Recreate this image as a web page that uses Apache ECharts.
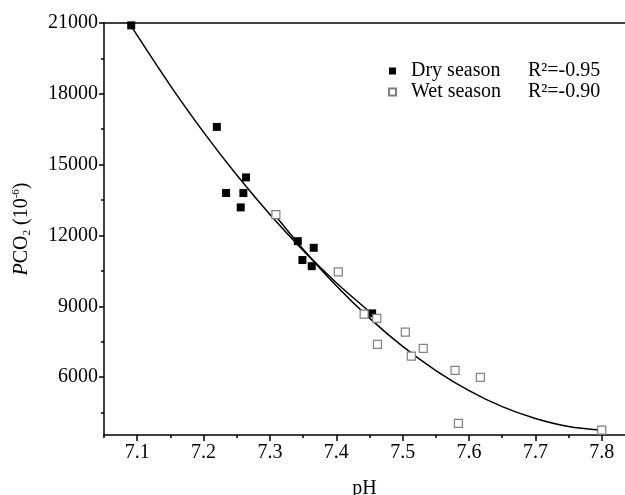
<!DOCTYPE html>
<html>
<head>
<meta charset="utf-8">
<script src="https://cdn.jsdelivr.net/npm/echarts@6/dist/echarts.min.js"></script>
<style>
  html, body { margin: 0; padding: 0; background: #fff; }
  #chart { width: 625px; height: 495px; }
</style>
</head>
<body>
<div id="chart"></div>
<script>
// values
const dryPH    = [7.091, 7.220, 7.234, 7.260, 7.264, 7.256, 7.342, 7.366, 7.349, 7.363, 7.454]
const dryPCO2  = [20900, 16600, 13800, 13800, 14460, 13190, 11760, 11480, 10960, 10700, 8700]
const wetPH    = [7.309, 7.403, 7.442, 7.461, 7.462, 7.504, 7.531, 7.513, 7.579, 7.617, 7.584, 7.800]
const wetPCO2  = [12880, 10460, 8670, 8490, 7390, 7910, 7220, 6890, 6290, 5990, 4040, 3760]

// fitted curves
const dryFitPH   = [7.09, 7.15, 7.20, 7.25, 7.30, 7.35, 7.40, 7.454]
const dryFitPCO2 = [20910, 18350, 16380, 14560, 12890, 11370, 10000, 8680]
const wetFitPH   = [7.3075, 7.35, 7.40, 7.45, 7.50, 7.55, 7.60, 7.65, 7.70, 7.75, 7.80]
const wetFitPCO2 = [12870, 11420, 9870, 8500, 7300, 6280, 5430, 4750, 4250, 3910, 3755]

const seasons   = ['Dry season', 'Wet season']
const r2Labels  = ['R²=-0.95', 'R²=-0.90']

const xTicks      = [7.1, 7.2, 7.3, 7.4, 7.5, 7.6, 7.7, 7.8]
const xMinorTicks = [7.05, 7.15, 7.25, 7.35, 7.45, 7.55, 7.65, 7.75]
const yTicks      = [6000, 9000, 12000, 15000, 18000, 21000]
const yMinorTicks = [4500, 7500, 10500, 13500, 16500, 19500]

const font = 'Liberation Serif'
const xMin = 7.05, xMax = 7.835
const yMin = 3550, yMax = 21000

const zip = (xs, ys) => xs.map((x, i) => [x, ys[i]])

const axisLine = { show: true, lineStyle: { color: '#000', width: 1.5 } }
const hidden = { show: false }

const chart = echarts.init(document.getElementById('chart'), null, { renderer: 'canvas' })
chart.setOption({
  animation: false,
  backgroundColor: '#fff',
  grid: { left: 104, right: 0, top: 23, bottom: 60, outerBoundsMode: 'none', containLabel: false },
  legend: {
    data: seasons,
    orient: 'vertical',
    left: 383,
    top: 56,
    itemWidth: 7,
    itemHeight: 7,
    itemGap: 1,
    formatter: name => `{n|${name}}{r|${r2Labels[seasons.indexOf(name)]}}`,
    textStyle: {
      fontFamily: font,
      fontSize: 20,
      color: '#000',
      rich: {
        n: { fontFamily: font, fontSize: 20, width: 117, padding: [0, 0, 0, 10], lineHeight: 22 },
        r: { fontFamily: font, fontSize: 20, lineHeight: 22 }
      }
    }
  },
  xAxis: [
    {
      type: 'value', min: xMin, max: xMax, position: 'bottom',
      name: 'pH', nameLocation: 'middle', nameGap: 44,
      nameTextStyle: { fontFamily: font, fontSize: 20, color: '#000' },
      axisLine: axisLine,
      axisTick: { show: true, inside: false, length: 6, customValues: xTicks, lineStyle: { color: '#000', width: 1.5 } },
      axisLabel: { customValues: xTicks, fontFamily: font, fontSize: 20, color: '#000', margin: 8,
        formatter: v => v.toFixed(1) },
      splitLine: hidden
    },
    {
      type: 'value', min: xMin, max: xMax, position: 'bottom',
      axisLine: hidden,
      axisTick: { show: true, length: 3, customValues: xMinorTicks, lineStyle: { color: '#000', width: 1.5 } },
      axisLabel: hidden, splitLine: hidden
    },
    {
      type: 'value', min: xMin, max: xMax, position: 'top',
      axisLine: axisLine, axisTick: hidden, axisLabel: hidden, splitLine: hidden
    }
  ],
  yAxis: [
    {
      type: 'value', min: yMin, max: yMax, position: 'left',
      name: '{i|P}{n|CO}{sub|2}{n| (10}{sup|-6}{n|)}',
      nameLocation: 'middle', nameGap: 71,
      nameTextStyle: {
        fontFamily: font, fontSize: 20, color: '#000',
        rich: {
          i: { fontFamily: font, fontSize: 20, fontStyle: 'italic', lineHeight: 22 },
          n: { fontFamily: font, fontSize: 20, lineHeight: 22 },
          sub: { fontFamily: font, fontSize: 11, verticalAlign: 'bottom', lineHeight: 12 },
          sup: { fontFamily: font, fontSize: 11, verticalAlign: 'top', lineHeight: 12 }
        }
      },
      axisLine: axisLine,
      axisTick: { show: true, length: 5, customValues: yTicks, lineStyle: { color: '#000', width: 1.5 } },
      axisLabel: { customValues: yTicks, fontFamily: font, fontSize: 20, color: '#000', margin: 6,
        formatter: v => String(v) },
      splitLine: hidden
    },
    {
      type: 'value', min: yMin, max: yMax, position: 'left',
      axisLine: hidden,
      axisTick: { show: true, length: 3, customValues: yMinorTicks, lineStyle: { color: '#000', width: 1.5 } },
      axisLabel: hidden, splitLine: hidden
    }
  ],
  series: [
    {
      name: 'Dry fit', type: 'line', smooth: 0.3, showSymbol: false, silent: true,
      data: zip(dryFitPH, dryFitPCO2),
      lineStyle: { color: '#000', width: 1.5 }
    },
    {
      name: 'Wet fit', type: 'line', smooth: 0.3, showSymbol: false, silent: true,
      data: zip(wetFitPH, wetFitPCO2),
      lineStyle: { color: '#000', width: 1.5 }
    },
    {
      name: 'Dry season', type: 'scatter', symbol: 'rect', symbolSize: 8,
      data: zip(dryPH, dryPCO2),
      itemStyle: { color: '#000', opacity: 1 },
      z: 3
    },
    {
      name: 'Wet season', type: 'scatter', symbol: 'rect', symbolSize: 8,
      data: zip(wetPH, wetPCO2),
      itemStyle: { color: '#fff', borderColor: '#808080', borderWidth: 1.2, opacity: 1 },
      z: 4
    }
  ]
})
</script>
</body>
</html>
